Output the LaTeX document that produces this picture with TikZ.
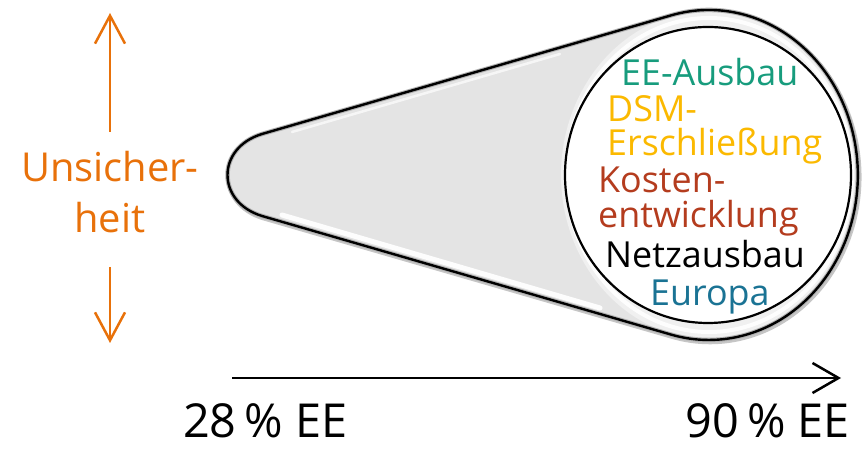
\documentclass[tikz,border=0pt]{standalone}
\usepackage{fontspec}
\setmainfont{Open Sans}
\usetikzlibrary{arrows.meta,shapes.geometric}
\definecolor{eegreen}{HTML}{179C7D}
\definecolor{dsmyellow}{HTML}{FBB900}
\definecolor{kostred}{HTML}{B43C1E}
\definecolor{eublue}{HTML}{1A7394}
\definecolor{unsorange}{HTML}{E8710A}
\definecolor{conegray}{HTML}{E4E4E4}
\tikzset{
  txt/.style={inner sep=0pt, anchor=base west, font=\fontsize{36}{36}\selectfont},
  lbl/.style={inner sep=0pt, font=\fontsize{40}{40}\selectfont, text=unsorange},
  axis/.style={inner sep=0pt, font=\fontsize{47}{47}\selectfont},
  oarrow/.style={draw=unsorange, line width=2.5bp, -{Straight Barb[length=28bp,width=30bp,line width=2.5bp]}},
  karrow/.style={draw=black, line width=2.5bp, -{Straight Barb[length=26bp,width=30bp,line width=2.5bp]}},
}
\begin{document}
\begin{tikzpicture}[x=1bp,y=1bp]
\useasboundingbox (0,0) rectangle (865,450);
% magnifier / tube shape
\def\outerpath{(262,316) -- (671,434.6) arc[start angle=104.7, end angle=-104.7, x radius=149, y radius=165] -- (262,234) .. controls (216,248) and (216,302) .. cycle}
% shadow
\draw[gray!45, line width=5bp, shift={(1.2,-1.8)}] \outerpath;
\fill[conegray] \outerpath;
% ring
\fill[white!94!black] (709,275) ellipse[x radius=148, y radius=164];
% highlights on cone
\draw[white, line width=5bp, line cap=round, opacity=0.95] (282,235) -- (600,142);
\draw[white, line width=2.5bp, line cap=round, opacity=0.7] (292,318) -- (560,396);
\draw[white, line width=4bp, opacity=0.9] (709,275) ellipse[x radius=143, y radius=157];
% outline
\draw[gray!60, line width=4.5bp, line join=round] \outerpath;
\draw[black, line width=2.4bp, line join=round] \outerpath;
% opening
\node[draw=black, line width=2.2bp, fill=white, ellipse, inner sep=0pt, minimum width=286bp, minimum height=296bp] (lens) at (708,275) {};
% texts in lens
\node[txt, text=eegreen] (t1) at (621,364) {EE-Ausbau};
\node[txt, text=dsmyellow] (t2) at (607,328) {DSM-};
\node[txt, text=dsmyellow] (t3) at (607,294) {Erschließung};
\node[txt, text=kostred] (t4) at (598,257) {Kosten-};
\node[txt, text=kostred] (t5) at (598,222) {entwicklung};
\node[txt, text=black] (t6) at (605,182) {Netzausbau};
\node[txt, text=eublue] (t7) at (650,144) {Europa};
% uncertainty
\node[lbl, anchor=base] (u1) at (110,268) {Unsicher-};
\node[lbl, anchor=base] (u2) at (110,217) {heit};
\coordinate (upS) at (110,318);
\coordinate (upE) at (110,437);
\coordinate (dnS) at (110,183);
\coordinate (dnE) at (110,107);
\draw[oarrow] (upS) -- (upE);
\draw[oarrow] (dnS) -- (dnE);
% axis
\coordinate (axS) at (232,72);
\coordinate (axE) at (841,72);
\draw[karrow] (axS) -- (axE);
\node[axis, anchor=base west] (a1) at (183,12) {28\,\% EE};
\node[axis, anchor=base east] (a2) at (850,12) {90\,\% EE};
\end{tikzpicture}
\end{document}
